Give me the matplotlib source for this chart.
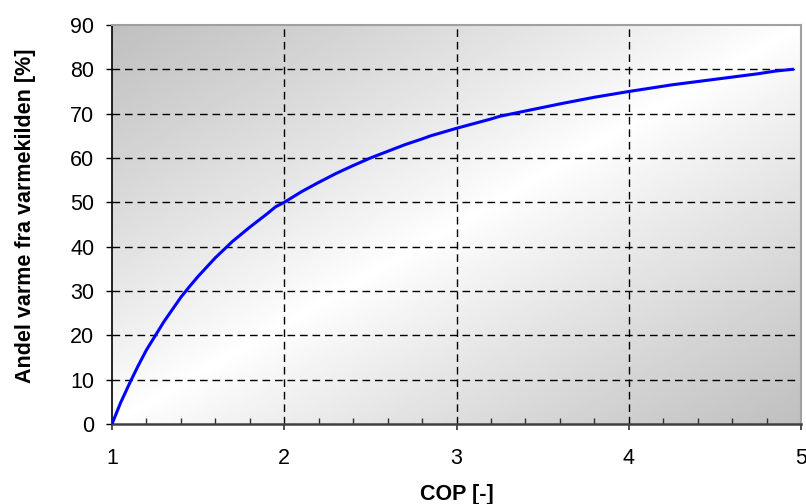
import numpy as np
import matplotlib
matplotlib.use("Agg")
import matplotlib.pyplot as plt
from matplotlib.ticker import MultipleLocator

plt.rcParams['font.family'] = ['Liberation Sans', 'DejaVu Sans']

# Share of heat taken from the heat source versus heat pump COP
cop = [1.00, 1.05, 1.10, 1.15, 1.20, 1.30, 1.40, 1.45, 1.50, 1.60, 1.70, 1.80,
       1.90, 1.95, 2.00, 2.10, 2.20, 2.30, 2.40, 2.50, 2.60, 2.70, 2.80, 2.85,
       3.00, 3.20, 3.25, 3.40, 3.50, 3.60, 3.80, 4.00, 4.10, 4.25, 4.45, 4.55,
       4.75, 4.85, 4.95]
andel = [0.0, 4.8, 9.0, 13.0, 16.7, 23.0, 28.6, 31.0, 33.3, 37.5, 41.2, 44.4,
         47.4, 49.0, 50.0, 52.4, 54.5, 56.5, 58.3, 60.0, 61.5, 63.0, 64.3, 65.0,
         66.7, 68.8, 69.4, 70.6, 71.4, 72.2, 73.7, 75.0, 75.6, 76.5, 77.5, 78.0,
         79.0, 79.6, 80.0]

x_ticks = [1, 2, 3, 4, 5]
y_ticks = [0, 10, 20, 30, 40, 50, 60, 70, 80, 90]

fig = plt.figure(figsize=(8.06, 5.04), dpi=100)
ax = fig.add_axes([112 / 806, 80.0 / 504, 689 / 806, 399.0 / 504])

# diagonal grey-white-grey fill of the plot area
u = np.linspace(0, 1, 400)
v = np.linspace(1, 0, 300)
U, V = np.meshgrid(u, v)
shade = 1.0 - 0.25 * np.abs(U - V) ** 0.9
ax.imshow(shade, cmap='gray', vmin=0, vmax=1, extent=[0, 1, 0, 1],
          transform=ax.transAxes, aspect='auto', zorder=0, interpolation='bilinear')

ax.set_xlim(1, 5)
ax.set_ylim(0, 90)

for xv in x_ticks[1:-1]:
    ax.axvline(xv, color='black', lw=1.0, dashes=(5.5, 3.5), zorder=1)
for yv in y_ticks[1:-1]:
    ax.axhline(yv, color='black', lw=1.0, dashes=(5.5, 3.5), zorder=1)

ax.plot(cop, andel, color='#0000ff', lw=2.2, zorder=3, solid_joinstyle='round')

ax.set_xticks(x_ticks)
ax.set_yticks(y_ticks)
ax.xaxis.set_minor_locator(MultipleLocator(0.2))
ax.tick_params(axis='x', which='major', direction='out', length=4.5, width=1.2,
               pad=13, labelsize=15.5, color='#303030')
ax.tick_params(axis='x', which='minor', direction='in', length=4, width=1.0,
               color='#303030')
ax.tick_params(axis='y', which='major', direction='out', length=4.3, width=1.0,
               pad=8.5, labelsize=15.5)

for side in ('top', 'right'):
    ax.spines[side].set_color('#a0a0a0')
    ax.spines[side].set_linewidth(1.5)
ax.spines['left'].set_color('black')
ax.spines['left'].set_linewidth(1.2)
ax.spines['bottom'].set_color('#404040')
ax.spines['bottom'].set_linewidth(1.8)

ax.set_xlabel('COP [-]', fontsize=15.5, fontweight='bold')
ax.set_ylabel('Andel varme fra varmekilden [%]', fontsize=15.5, fontweight='bold')
ax.xaxis.set_label_coords(0.5, -0.151)
ax.yaxis.set_label_coords(-0.111, 0.523)

fig.savefig('out.png', dpi=100)
